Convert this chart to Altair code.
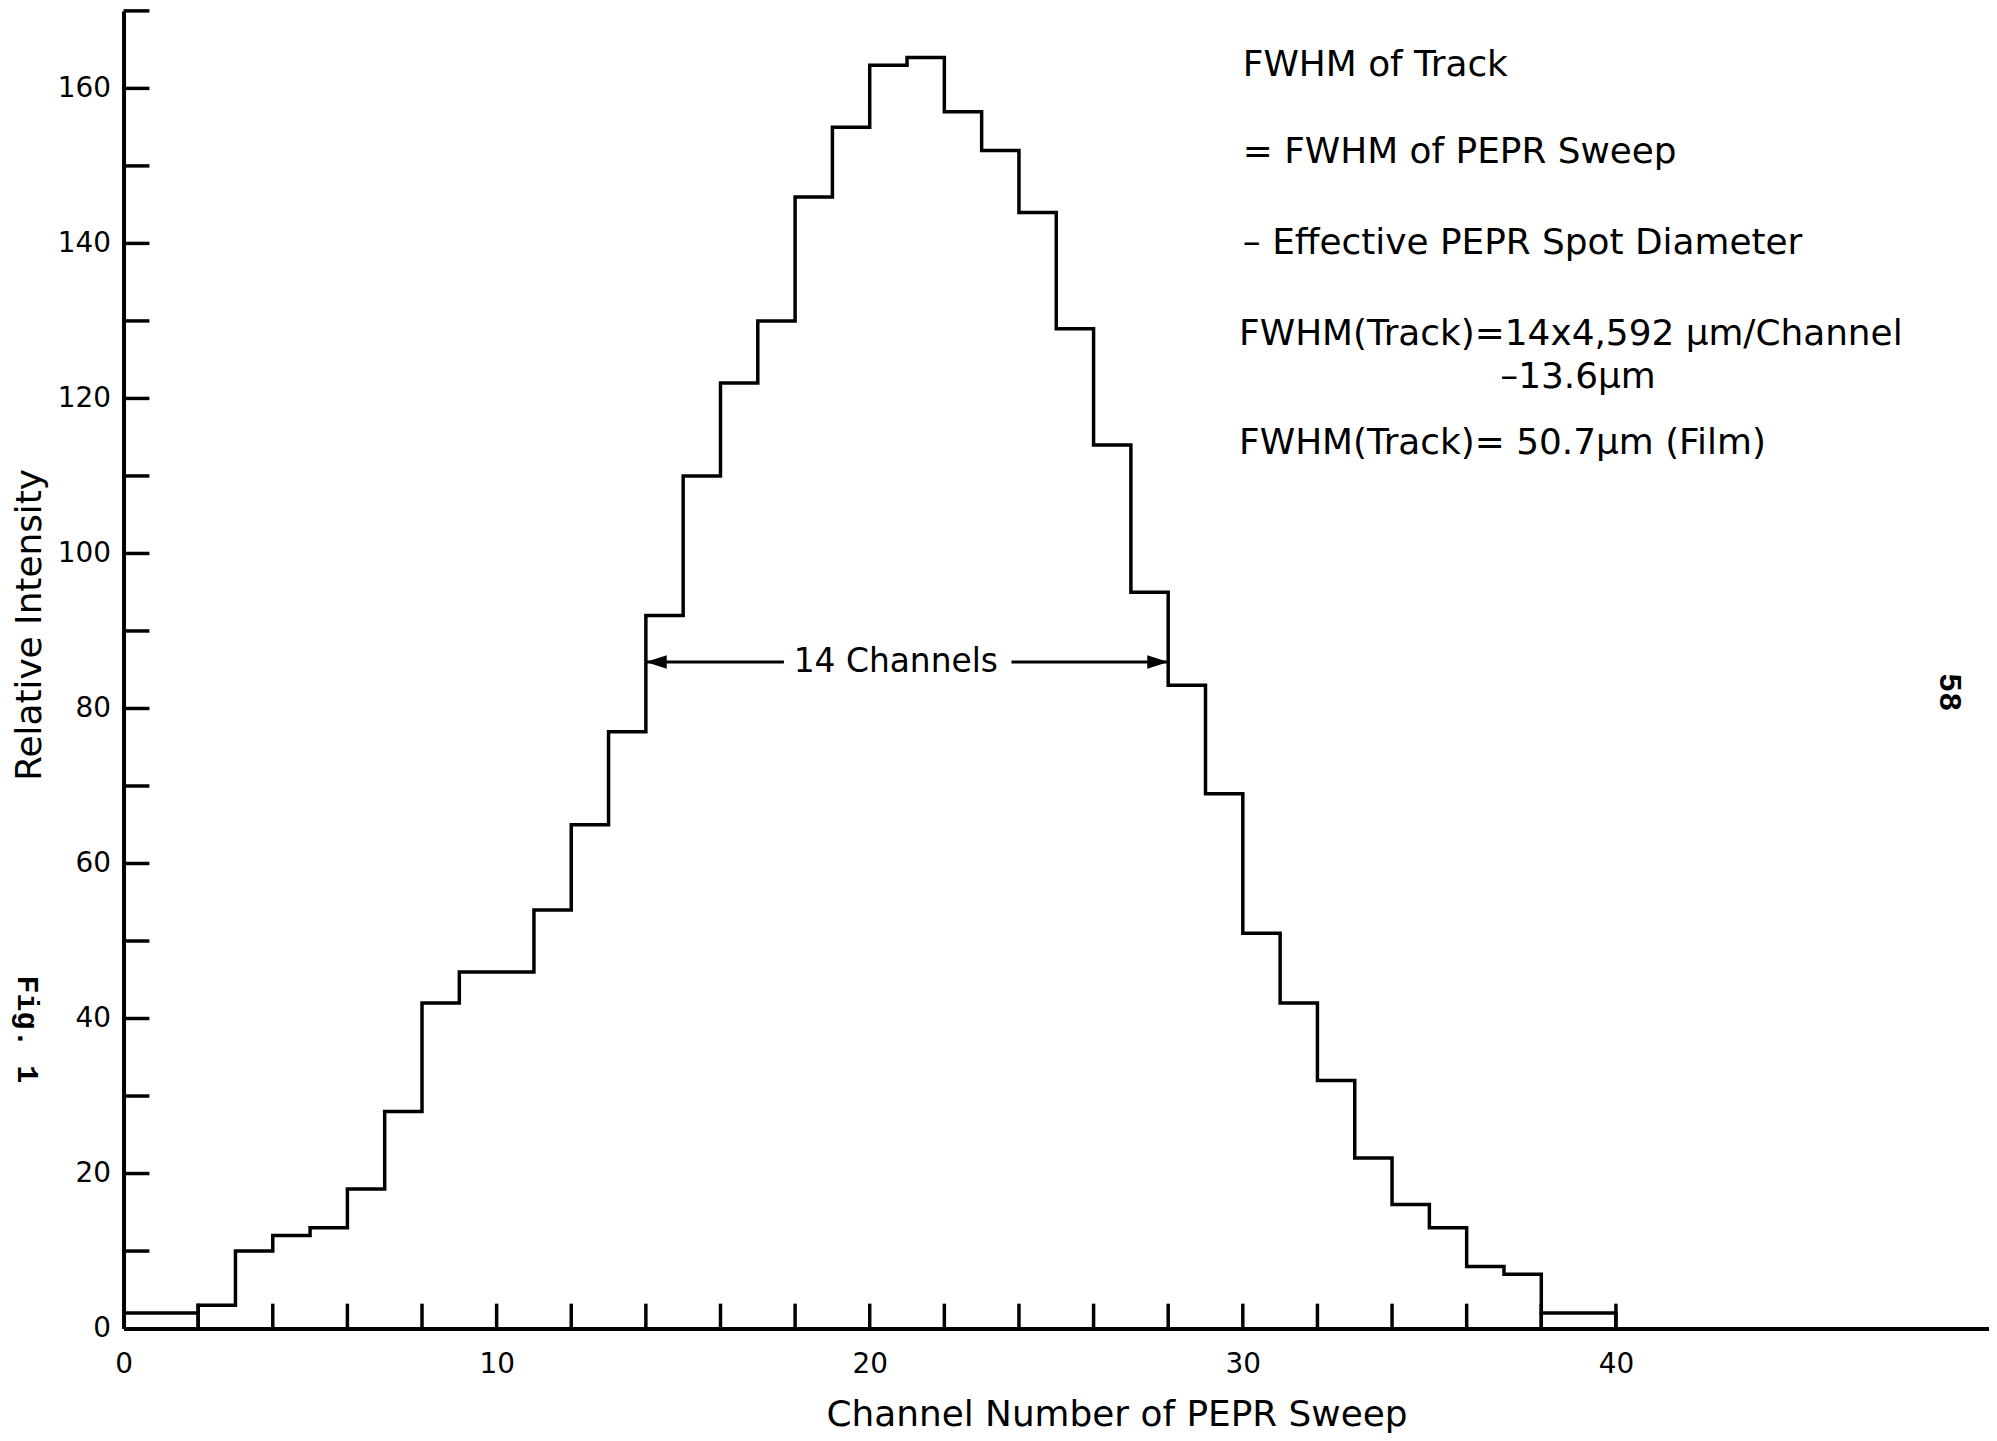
import altair as alt
import pandas as pd

# ---- data ----
channels = list(range(0, 40))
counts = [2, 2, 3, 10, 12, 13, 18, 28, 42, 46, 46, 54, 65, 77, 92, 110, 122, 130, 146, 155,
          163, 164, 157, 152, 144, 129, 114, 95, 83, 69, 51, 42, 32, 22, 16, 13, 8, 7, 2, 2]
last_edge = 40
closed_edges = [2, 38]

y_tick_values = list(range(10, 171, 10))
y_label_values = list(range(0, 161, 20))
x_tick_values = list(range(2, 41, 2))
x_label_values = [0, 10, 20, 30, 40]

fwhm_left, fwhm_right = 14, 28
fwhm_level = 86
fwhm_label = "14 Channels"
fwhm_label_x = 20.7
gap_left, gap_right = 17.7, 23.8

note_texts = ["FWHM of Track",
              "= FWHM of PEPR Sweep",
              "\u2013 Effective PEPR Spot Diameter",
              "FWHM(Track)=14x4,592 \u03bcm/Channel",
              "\u201313.6\u03bcm",
              "FWHM(Track)= 50.7\u03bcm (Film)"]
note_x = [30.0, 30.0, 30.0, 29.9, 36.9, 29.9]
note_y = [163.0, 151.8, 140.0, 128.3, 122.7, 114.2]

side_texts = ["Fig. 1", "58"]
side_x = [-2.6, 48.95]
side_y = [38.6, 82.1]
side_size = [30, 32]

W, H = 1873, 1323
FONT = "DejaVu Sans"

xs = alt.Scale(domain=[0, 50], nice=False, zero=False)
ys = alt.Scale(domain=[0, 170], nice=False, zero=False)

x_axis = alt.Axis(
    values=x_label_values, title="Channel Number of PEPR Sweep",
    titleX=997, titleY=86, titleAlign="center", titleBaseline="middle",
    labelPadding=22, labelFlush=False, labelOverlap=False, ticks=False,
    grid=False, domain=True)
y_axis = alt.Axis(
    values=y_label_values, title="Relative Intensity",
    titleX=-94, titleY=616, titleAngle=270, titleAlign="center",
    titleBaseline="middle", labelPadding=13, labelFlush=False,
    labelOverlap=False, ticks=False, grid=False, domain=True)


def X(field="x"):
    return alt.X(f"{field}:Q", scale=xs, axis=x_axis)


def Y(field="y"):
    return alt.Y(f"{field}:Q", scale=ys, axis=y_axis)


hist_df = pd.DataFrame({"x": channels + [last_edge], "y": counts + [0]})
closed_df = pd.DataFrame({
    "x": closed_edges,
    "y": [0] * len(closed_edges),
    "y2": [min(counts[e - 1], counts[e]) for e in closed_edges],
})
ytick_df = pd.DataFrame({"y": y_tick_values})
xtick_df = pd.DataFrame({"x": x_tick_values})
arrow_df = pd.DataFrame({"x": [fwhm_left, gap_right], "x2": [gap_left, fwhm_right],
                         "y": [fwhm_level, fwhm_level]})
head_l_df = pd.DataFrame({"x": [fwhm_left], "y": [fwhm_level]})
head_r_df = pd.DataFrame({"x": [fwhm_right], "y": [fwhm_level]})
label_df = pd.DataFrame({"x": [fwhm_label_x], "y": [fwhm_level], "t": [fwhm_label]})
notes_df = pd.DataFrame({"x": note_x, "y": note_y, "t": note_texts})
side_df = pd.DataFrame({"x": side_x, "y": side_y, "t": side_texts, "s": side_size})

LW = 3.5

hist = alt.Chart(hist_df).mark_line(interpolate="step-after", color="black",
                                    strokeWidth=LW).encode(x=X(), y=Y())

closed = alt.Chart(closed_df).mark_rule(color="black", strokeWidth=LW).encode(
    x=X(), y=Y(), y2="y2:Q")

yticks = alt.Chart(ytick_df).mark_rule(color="black", strokeWidth=LW).encode(
    y=Y(), x=alt.value(0), x2=alt.value(26))

xticks = alt.Chart(xtick_df).mark_rule(color="black", strokeWidth=LW).encode(
    x=X(), y=alt.value(H), y2=alt.value(H - 25))

arrows = alt.Chart(arrow_df).mark_rule(color="black", strokeWidth=3).encode(
    x=X(), x2="x2:Q", y=Y())

head_l = alt.Chart(head_l_df).mark_point(
    shape="M0,0 L1,-0.32 L1,0.32 Z", filled=True, size=1764, color="black",
    opacity=1, strokeWidth=0).encode(x=X(), y=Y())

head_r = alt.Chart(head_r_df).mark_point(
    shape="M0,0 L-1,-0.32 L-1,0.32 Z", filled=True, size=1764, color="black",
    opacity=1, strokeWidth=0).encode(x=X(), y=Y())

label = alt.Chart(label_df).mark_text(font=FONT, fontSize=33, color="black",
                                      align="center", baseline="middle").encode(
    x=X(), y=Y(), text="t:N")

notes = alt.Chart(notes_df).mark_text(font=FONT, fontSize=36, color="black",
                                      align="left", baseline="middle").encode(
    x=X(), y=Y(), text="t:N")

side = alt.Chart(side_df).mark_text(font="Liberation Mono", color="black",
                                    fontWeight="bold", angle=90, align="center",
                                    baseline="middle").encode(
    x=X(), y=Y(), text="t:N", size=alt.Size("s:Q", scale=None, legend=None))

chart = alt.layer(hist, closed, yticks, xticks, arrows, head_l, head_r, label, notes,
                  side).properties(
    width=W, height=H,
    autosize=alt.AutoSizeParams(type="none"),
    padding={"left": 116, "top": 0, "right": 0, "bottom": 110},
    background="white",
).configure_view(stroke=None).configure_axis(
    domainColor="black", domainWidth=4, labelColor="black", labelFont=FONT,
    labelFontSize=28, titleColor="black", titleFont=FONT, titleFontSize=36,
    titleFontWeight="normal",
)

chart.save("out.html", embed_options={"renderer": "svg", "actions": False})
